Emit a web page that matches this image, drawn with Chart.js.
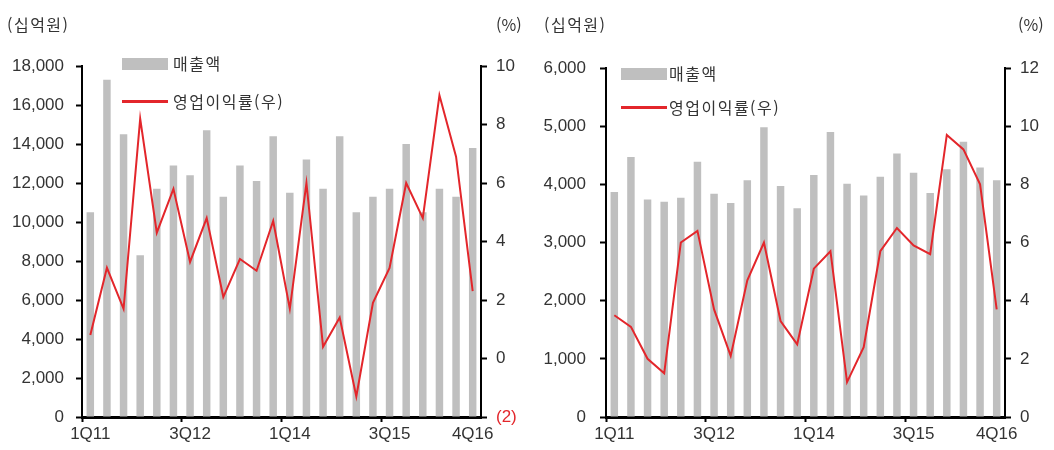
<!DOCTYPE html>
<html lang="ko">
<head>
<meta charset="utf-8">
<title>매출액 / 영업이익률</title>
<script src="https://cdn.jsdelivr.net/npm/chart.js@4.4.1/dist/chart.umd.min.js"></script>
<style>
  html, body { margin: 0; padding: 0; background: #fff; }
  #wrap { position: relative; width: 1054px; height: 450px; overflow: hidden; }
  .panel { position: absolute; top: 0; width: 527px; height: 450px; }
  .panel canvas { position: absolute; left: 0; top: 0; }
  .txt {
    position: absolute; white-space: nowrap; color: #333;
    font-family: "Noto Sans CJK KR", "Noto Sans", sans-serif;
    font-size: 16px; line-height: 20px; letter-spacing: 1.5px;
  }
  .swatch-bar { position: absolute; width: 46px; height: 12px; background: #bfbfbf; }
  .swatch-line { position: absolute; width: 46px; height: 3px; background: #e3262b; }
</style>
</head>
<body>
<div id="wrap">
  <div class="panel" style="left:0">
    <canvas id="chart-left" width="527" height="450"></canvas>
    <div class="txt" style="left:7px;top:14px">(십억원)</div>
    <div class="txt" style="left:496px;top:14px;letter-spacing:0">(%)</div>
    <div class="swatch-bar" style="left:122px;top:58px"></div>
    <div class="txt" style="left:173px;top:53px">매출액</div>
    <div class="swatch-line" style="left:122px;top:100px"></div>
    <div class="txt" style="left:173px;top:91px">영업이익률(우)</div>
  </div>
  <div class="panel" style="left:527px">
    <canvas id="chart-right" width="527" height="450"></canvas>
    <div class="txt" style="left:17px;top:14px">(십억원)</div>
    <div class="txt" style="left:491px;top:14px;letter-spacing:0">(%)</div>
    <div class="swatch-bar" style="left:94px;top:68px"></div>
    <div class="txt" style="left:142px;top:63px">매출액</div>
    <div class="swatch-line" style="left:94px;top:106px"></div>
    <div class="txt" style="left:142px;top:97px">영업이익률(우)</div>
  </div>
</div>
<script>
'use strict';

// 분기 (1Q11 ~ 4Q16)
const quarters = [
  '1Q11', '2Q11', '3Q11', '4Q11',
  '1Q12', '2Q12', '3Q12', '4Q12',
  '1Q13', '2Q13', '3Q13', '4Q13',
  '1Q14', '2Q14', '3Q14', '4Q14',
  '1Q15', '2Q15', '3Q15', '4Q15',
  '1Q16', '2Q16', '3Q16', '4Q16'
];
// x축에 보이는 분기 라벨
const shownLabels = ['1Q11', '3Q12', '1Q14', '3Q15', '4Q16'];

// 왼쪽 차트: 매출액(십억원), 영업이익률(%)
const salesLeft = [
  10500, 17300, 14500, 8300, 11700, 12900, 12400, 14700,
  11300, 12900, 12100, 14400, 11500, 13200, 11700, 14400,
  10500, 11300, 11700, 14000, 10500, 11700, 11300, 13800
];
const marginLeft = [
  0.8, 3.1, 1.7, 8.2, 4.3, 5.8, 3.3, 4.8,
  2.1, 3.4, 3.0, 4.7, 1.7, 6.0, 0.4, 1.4,
  -1.3, 1.9, 3.1, 6.0, 4.8, 9.0, 6.9, 2.3
];

// 오른쪽 차트
const salesRight = [
  3870, 4470, 3740, 3700, 3770, 4390, 3840, 3680,
  4070, 4980, 3970, 3590, 4160, 4900, 4010, 3810,
  4130, 4530, 4200, 3850, 4260, 4730, 4290, 4070
];
const marginRight = [
  3.5, 3.1, 2.0, 1.5, 6.0, 6.4, 3.7, 2.1,
  4.7, 6.0, 3.3, 2.5, 5.1, 5.7, 1.2, 2.4,
  5.7, 6.5, 5.9, 5.6, 9.7, 9.2, 8.0, 3.7
];

const COLOR_BAR = '#bfbfbf';
const COLOR_LINE = '#e3262b';
const COLOR_TEXT = '#333333';
const FONT_TICK = { family: '"Liberation Sans", Arial, sans-serif', size: 17 };

function formatearMiles(v) {
  return Number(v).toLocaleString('en-US');
}

function formatearPct(v) {
  return v < 0 ? '(' + (-v) + ')' : String(v);
}

function crearChart(canvasId, cfg) {
  const canvas = document.getElementById(canvasId);
  if (!canvas || typeof Chart === 'undefined') return null;

  return new Chart(canvas.getContext('2d'), {
    type: 'bar',
    data: {
      labels: quarters,
      datasets: [
        {
          type: 'line',
          label: '영업이익률(우)',
          data: cfg.margin,
          yAxisID: 'y1',
          borderColor: COLOR_LINE,
          borderWidth: 2,
          pointRadius: 0,
          tension: 0,
          order: 0
        },
        {
          type: 'bar',
          label: '매출액',
          data: cfg.sales,
          yAxisID: 'y',
          backgroundColor: COLOR_BAR,
          categoryPercentage: 1,
          barPercentage: 0.45,
          order: 1
        }
      ]
    },
    options: {
      responsive: false,
      animation: false,
      layout: { padding: { top: cfg.top, left: 0, right: 0, bottom: 0 } },
      plugins: { legend: { display: false }, tooltip: { enabled: false } },
      scales: {
        x: {
          offset: true,
          border: { display: true, color: '#000', width: 3 },
          grid: {
            offset: true,
            drawOnChartArea: false,
            drawTicks: true,
            tickLength: 5,
            tickWidth: 2,
            tickColor: function (ctx) {
              const i = ctx.index;
              return (i === 0 || i === 6 || i === 12 || i === 18) ? '#000' : 'rgba(0,0,0,0)';
            }
          },
          ticks: {
            autoSkip: false,
            maxRotation: 0,
            padding: 2,
            color: COLOR_TEXT,
            font: FONT_TICK,
            callback: function (val, idx) {
              const lab = quarters[idx];
              return shownLabels.indexOf(lab) >= 0 ? lab : '';
            }
          },
          afterFit: function (scale) { scale.height = 33; }
        },
        y: {
          position: 'left',
          min: 0,
          max: cfg.leftMax,
          border: { display: true, color: '#000', width: 2 },
          grid: {
            drawOnChartArea: false,
            tickLength: 6,
            tickWidth: 2,
            tickColor: '#000'
          },
          ticks: {
            stepSize: cfg.leftStep,
            padding: cfg.leftPad,
            color: COLOR_TEXT,
            font: FONT_TICK,
            callback: formatearMiles
          },
          afterFit: function (scale) { scale.width = cfg.leftW; }
        },
        y1: {
          position: 'right',
          min: cfg.rightMin,
          max: cfg.rightMax,
          border: { display: true, color: '#000', width: 2 },
          grid: {
            drawOnChartArea: false,
            tickLength: 6,
            tickWidth: 2,
            tickColor: '#000'
          },
          ticks: {
            stepSize: 2,
            padding: cfg.rightPad,
            font: FONT_TICK,
            color: function (ctx) {
              return ctx.tick && ctx.tick.value < 0 ? COLOR_LINE : COLOR_TEXT;
            },
            callback: formatearPct
          },
          afterFit: function (scale) { scale.width = cfg.rightW; }
        }
      }
    }
  });
}

crearChart('chart-left', {
  sales: salesLeft,
  margin: marginLeft,
  top: 66,
  leftMax: 18000,
  leftStep: 2000,
  rightMin: -2,
  rightMax: 10,
  leftW: 82,
  leftPad: 12,
  rightW: 46,
  rightPad: 9
});

crearChart('chart-right', {
  sales: salesRight,
  margin: marginRight,
  top: 68,
  leftMax: 6000,
  leftStep: 1000,
  rightMin: 0,
  rightMax: 12,
  leftW: 79,
  leftPad: 14,
  rightW: 49,
  rightPad: 9
});
</script>
</body>
</html>
